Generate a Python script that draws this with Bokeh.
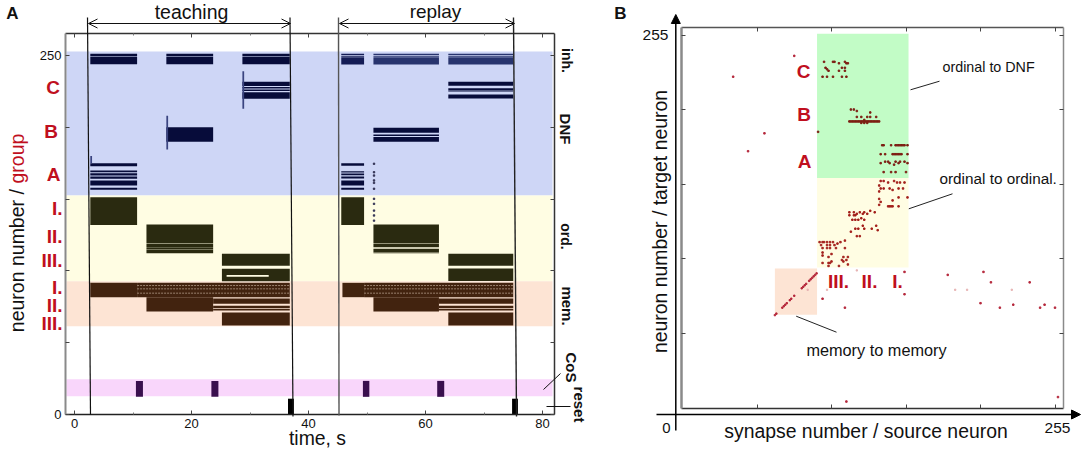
from bokeh.embed import file_html
from bokeh.resources import INLINE
from bokeh.plotting import figure
from bokeh.layouts import row
from bokeh.models import Label, Arrow, OpenHead, NormalHead, LinearAxis, FixedTicker

FONT = "Liberation Sans"
RED = "#c00f1e"
BLUE_BAND, YELLOW_BAND, PEACH_BAND, PINK_BAND, GREEN_BAND = "#ced6f6", "#fffde3", "#fde4d4", "#f9d6fb", "#c2fcc6"
NAVY, OLIVE, BROWN, PURPLE = "#070c3a", "#2a2a10", "#42230f", "#3a0f4e"

# ---------- Panel A data: (time s) and (neuron number) ----------
time_ticks = [0, 20, 40, 60, 80]
time_minor = [10, 30, 50, 70]
neuron_ticks = [0, 50, 100, 150, 200, 250]

band_inh_dnf = (152.5, 252.8)
band_ord = (92.8, 152.5)
band_mem = (61.5, 92.8)
band_cos = (12.7, 24.6)

ep_A_teach, ep_B_teach, ep_C_teach = (2.7, 10.7), (15.7, 23.7), (28.7, 36.8)
ep_A_replay, ep_B_replay, ep_C_replay = (45.6, 49.5), (51.1, 62.3), (63.9, 75.0)

inh_rows = [(243.9, 249.1), (249.5, 251.2)]
inh_rows_replay = [(243.8, 248.8), (249.1, 249.7), (250.1, 251.2)]
dnf_A_teach = [(172.9, 175), (168.7, 169.9), (166.4, 168), (164.1, 165.7), (159.5, 163), (156.5, 157.9)]
dnf_A_replay = [(173.2, 175), (168.6, 169.4), (166.6, 167.8), (164.4, 165.7), (159.5, 163), (156.5, 157.9)]
dnf_B_teach = [(190, 200)]
dnf_B_replay = [(196.2, 199.6), (194, 195), (190, 193.2)]
dnf_C_teach = [(228.8, 231.7), (227, 228), (225.3, 226.4), (219.8, 224.4)]
dnf_C_replay = [(229, 231.7), (225.7, 227.2), (225.0, 225.4), (220, 222.8)]
spikes = [(2.7, 3.0, 175, 180), (15.7, 16.0, 184.5, 208), (28.7, 29.0, 213, 239)]
stray_t = [51.2] * 11
stray_n = [174.6, 168.7, 166.4, 163, 161.3, 157.2, 150.2, 146.7, 142, 138.6, 135]

ord_I = [(132, 151.3)]
ord_II_teach_t = (12.3, 23.7)
ord_II_replay_t = (51.1, 62.3)
ord_III_teach_t = (25.2, 36.8)
ord_III_replay_t = (63.9, 75.0)
ord_II_teach = [(119.4, 132.3), (116.7, 119.1), (115.1, 116.5), (112.3, 114.9)]
ord_II_replay = [(119, 132.3), (116.5, 118.7), (113, 115.4), (112.3, 112.8)]
ord_III_teach = [(103.5, 111.9), (92.8, 101.5)]
ord_III_replay = [(103.5, 111.9), (92.9, 101.6)]
ord_III_streak_t = (26.0, 33.2)
ord_III_streak_n = (95.9, 97.1)

mem_I = (81.7, 91.7)
mem_II = (71.7, 81.7)
mem_III = (62, 71)
mem_II_late = [(77.1, 80.8), (74, 75.7), (72.4, 73.4)]
mem_I_teach_t, mem_I_tail_t = (2.7, 10.7), (10.7, 36.8)
mem_II_teach_t, mem_II_late_t = (12.3, 23.7), (23.7, 36.8)
mem_III_teach_t = (25.2, 36.8)
mem_I_replay_t, mem_I_rtail_t = (45.8, 49.5), (49.5, 75.0)
mem_II_replay_t, mem_II_rlate_t = (51.1, 62.3), (62.3, 75.0)
mem_III_replay_t = (63.9, 75.0)
mem_streak_n = [89.8, 87.5, 84.5]

cos_t = [(10.5, 11.7), (23.4, 24.6), (49.3, 50.4), (62.0, 63.2)]
cos_n = (12.3, 23.4)
reset_t = [(36.5, 37.5), (74.8, 75.8)]
reset_n = (0, 11)

# ---------- Panel B data: synapse number / target neuron ----------
conn_ticks = [50, 100, 150, 200, 250]
to_dnf_x = [95, 101, 102, 105, 109, 110, 111, 96, 97, 107, 109, 98, 105, 109, 94, 97, 101, 107, 110,
            113, 115, 117, 126, 117, 120, 124, 126, 130, 122, 112, 113, 114, 115, 116, 117, 118, 119, 120, 121,
            122, 123, 124, 125, 126, 127, 128, 129, 130, 131, 132, 120, 122, 124,
            134, 135, 140, 143, 144, 145, 146, 147, 148, 149, 151, 133, 136, 141, 142, 143, 144, 145, 146, 147, 151,
            133, 136, 138, 139, 143, 145, 146, 149, 151, 142, 135, 140, 143, 150, 91]
to_dnf_y = [232, 232, 232, 231, 232, 231, 231, 228, 227, 228, 228, 226, 226, 226, 222, 222, 222, 222, 222,
            200, 200, 199, 198, 195, 195, 195, 195, 195, 193, 192, 192, 192, 192, 192, 192, 192, 192, 192, 192,
            192, 192, 192, 192, 192, 192, 192, 192, 192, 192, 192, 191, 191, 191,
            176, 176, 176, 176, 176, 176, 176, 176, 176, 176, 176, 170, 170, 170, 170, 170, 170, 170, 170, 170, 170,
            164, 165, 165, 164, 165, 164, 165, 165, 164, 163, 158, 158, 158, 158, 185]
to_ord_x = [133, 135, 138, 142, 144, 146, 149, 132, 133, 132, 135, 139, 141, 145, 148, 145, 151, 141, 132, 133,
            138, 139, 140, 141, 145, 132,
            112, 115, 117, 119, 121, 122, 124, 126, 129, 112, 115, 116, 116, 118, 120, 122, 114, 116, 118, 121, 122,
            127, 130, 131, 113, 117, 119,
            92, 94, 95, 97, 99, 101, 104, 106, 109, 93, 97, 99, 102, 94, 97, 99, 103, 109, 94, 100, 98, 94, 108, 111,
            110, 107, 94, 98, 100, 108, 111, 105, 98, 99]
to_ord_y = [152, 152, 151, 152, 151, 151, 151, 149, 147, 145, 147, 147, 146, 147, 147, 141, 141, 139, 140, 138,
            135, 135, 135, 135, 135, 136,
            131, 131, 130, 131, 130, 131, 130, 132, 131, 129, 129, 129, 126, 126, 127, 126, 126, 120, 120, 122, 120,
            120, 122, 119, 118, 115, 115,
            111, 111, 111, 111, 111, 111, 110, 111, 112, 109, 109, 109, 109, 107, 107, 107, 107, 107, 104, 103, 101,
            102, 101, 101, 99, 99, 97, 97, 98, 98, 96, 95, 95, 97]
memory_x = [62, 63, 67, 68, 69, 70, 72, 73, 75, 80, 81, 82, 83, 85, 86, 87, 88, 89, 90]
memory_y = [62, 63, 67, 68, 69, 70, 72, 73, 75, 80, 81, 82, 83, 85, 86, 87, 88, 89, 90]
other_x = [149, 178, 202, 207, 233, 149, 94, 200, 109, 213, 222, 240, 243, 250, 252, 110, 75, 34, 55, 44]
other_y = [91, 89, 91, 84, 84, 76, 73, 70, 67, 67, 69, 67, 69, 67, 7, 4, 236, 222, 184, 172]
pale_x = [117, 183, 191, 221, 97, 84]
pale_y = [92, 79, 79, 79, 79, 79]

# ---------- placement helpers (page pixels to panel coordinates) ----------
def ax(px): return (px - 74) / 5.85
def ay(py): return (414 - py) / 1.436
def bx(px): return (px - 682) / 1.49
def by(py): return (407 - py) / 1.49


def text(p, x, y, s, size, color="#111111", align="center", weight="normal", angle=0):
    p.add_layout(Label(x=x, y=y, text=s, text_font=FONT, text_font_size=f"{size}px", text_color=color,
                       text_align=align, text_baseline="middle", text_font_style=weight,
                       angle=angle, angle_units="deg"))


def seg(p, x0, y0, x1, y1, color="#111111", width=1.0):
    p.add_layout(Arrow(end=None, start=None, x_start=x0, y_start=y0, x_end=x1, y_end=y1,
                       line_color=color, line_width=width))


def blocks(p, spans, rows, color):
    left, right, bottom, top = [], [], [], []
    for s in spans:
        for r in rows:
            left.append(s[0]); right.append(s[1]); bottom.append(r[0]); top.append(r[1])
    p.quad(left=left, right=right, bottom=bottom, top=top, fill_color=color, line_color=None)


def make_axis(p, side, where, bounds, color, width, ticks, minor=None, labels=None):
    a = LinearAxis(fixed_location=where, bounds=bounds)
    a.ticker = FixedTicker(ticks=ticks, minor_ticks=minor or [])
    a.axis_line_color = color
    a.axis_line_width = width
    a.major_tick_line_color = "#444444"
    a.minor_tick_line_color = "#777777"
    a.major_tick_in = 4
    a.major_tick_out = 0
    a.minor_tick_in = 2
    a.minor_tick_out = 0
    a.major_label_text_font = FONT
    a.major_label_text_font_size = "13px"
    a.major_label_text_color = "#111111"
    a.major_label_standoff = 4
    a.major_label_overrides = labels if labels is not None else {t: "" for t in ticks}
    p.add_layout(a, side)


# ---------- Panel A ----------
pa = figure(width=612, height=450, x_range=(ax(0), ax(612)), y_range=(ay(450), ay(0)),
            output_backend="svg", toolbar_location=None, x_axis_type=None, y_axis_type=None,
            min_border=0, min_border_left=0, min_border_right=0, min_border_top=0, min_border_bottom=0)
pa.grid.visible = False
pa.outline_line_color = None

band_l, band_r = ax(66), ax(552)
for band, col in [(band_inh_dnf, BLUE_BAND), (band_ord, YELLOW_BAND), (band_mem, PEACH_BAND), (band_cos, PINK_BAND)]:
    pa.quad(left=band_l, right=band_r, bottom=band[0], top=band[1], fill_color=col, line_color=None)

fx = (ax(65), ax(554))
fy = (ay(414), ay(33))
make_axis(pa, "left", fx[0], fy, "#8a8a8a", 2, neuron_ticks,
          labels={t: (str(t) if t in (0, 250) else "") for t in neuron_ticks})
make_axis(pa, "right", fx[1], fy, "#333333", 1.5, neuron_ticks)
make_axis(pa, "above", fy[1], fx, "#333333", 1.5, time_ticks, time_minor)
make_axis(pa, "below", fy[0], fx, "#222222", 1.5, time_ticks, time_minor, labels={t: str(t) for t in time_ticks})

blocks(pa, [ep_A_teach, ep_B_teach, ep_C_teach], inh_rows, NAVY)
blocks(pa, [ep_A_replay], inh_rows_replay, "#141c55")
blocks(pa, [ep_B_replay, ep_C_replay], inh_rows_replay, "#28346e")
blocks(pa, [ep_A_teach], dnf_A_teach, NAVY)
blocks(pa, [ep_A_replay], dnf_A_replay, NAVY)
blocks(pa, [ep_B_teach], dnf_B_teach, NAVY)
blocks(pa, [ep_B_replay], dnf_B_replay, NAVY)
blocks(pa, [ep_C_teach], dnf_C_teach, NAVY)
blocks(pa, [ep_C_replay], dnf_C_replay, NAVY)
pa.quad(left=[s[0] for s in spikes], right=[s[1] for s in spikes], bottom=[s[2] for s in spikes],
        top=[s[3] for s in spikes], fill_color="#3a4480", line_color=None)
pa.scatter(stray_t, stray_n, marker="square", size=1.4, color="#333355")

blocks(pa, [ep_A_teach, ep_A_replay], ord_I, OLIVE)
blocks(pa, [ord_II_teach_t], ord_II_teach, OLIVE)
blocks(pa, [ord_II_replay_t], ord_II_replay, OLIVE)
blocks(pa, [ord_III_teach_t], ord_III_teach, OLIVE)
blocks(pa, [ord_III_replay_t], ord_III_replay, OLIVE)
blocks(pa, [ord_III_streak_t], [ord_III_streak_n], YELLOW_BAND)

blocks(pa, [mem_I_teach_t, mem_I_tail_t, mem_I_replay_t, mem_I_rtail_t], [mem_I], BROWN)
blocks(pa, [mem_II_teach_t, mem_II_replay_t], [mem_II], BROWN)
blocks(pa, [mem_II_late_t, mem_II_rlate_t], mem_II_late, BROWN)
blocks(pa, [mem_III_teach_t, mem_III_replay_t], [mem_III], BROWN)
for tail in (mem_I_tail_t, mem_I_rtail_t):
    for n in mem_streak_n:
        pa.line([tail[0], tail[1]], [n, n], line_color="#b39a88", line_width=0.8, line_dash="2 1")
blocks(pa, cos_t, [cos_n], PURPLE)
blocks(pa, reset_t, [reset_n], "#000000")

# dividers, arrows and annotations
seg(pa, ax(87), ay(17), ax(90), ay(414), "#111111", 1.2)
seg(pa, ax(289.5), ay(17), ax(292.5), ay(416), "#111111", 1.2)
seg(pa, ax(338), ay(17), ax(338.5), ay(415), "#555555", 1.4)
seg(pa, ax(513), ay(17), ax(516), ay(416), "#222222", 1.4)
for a0, a1 in [(88, 290), (339, 514)]:
    pa.add_layout(Arrow(start=OpenHead(size=9, line_width=1, line_color="#111111"),
                        end=OpenHead(size=9, line_width=1, line_color="#111111"),
                        x_start=ax(a0), y_start=ay(23), x_end=ax(a1), y_end=ay(23),
                        line_color="#111111", line_width=1))
seg(pa, ax(543), ay(389), ax(560), ay(373), "#111111", 1)
seg(pa, ax(546), ay(406), ax(570), ay(406), "#111111", 1)

text(pa, ax(191), ay(11), "teaching", 19.5)
text(pa, ax(435), ay(11), "replay", 19)
text(pa, ax(12), ay(13), "A", 17, weight="bold")
text(pa, ax(317), ay(437), "time, s", 19.4)
text(pa, ax(16), ay(331.7), "neuron number / ", 19.5, align="left", angle=90)
text(pa, ax(16), ay(183), "group", 19.5, color=RED, align="left", angle=90)
for px, py, s in [(52.7, 86.7, "C"), (50.7, 130.7, "B"), (53, 174, "A")]:
    text(pa, ax(px), ay(py), s, 19, color=RED, weight="bold")
for py, s in [(208, "I."), (236, "II."), (260, "III."), (287, "I."), (305, "II."), (323, "III.")]:
    text(pa, ax(62), ay(py), s, 19, color=RED, align="right", weight="bold")
for px, py, s, sz in [(566, 60, "inh.", 14), (565, 128.5, "DNF", 15), (565, 236, "ord.", 14), (566.7, 305.5, "mem.", 15),
                      (570.7, 367, "CoS", 15), (579, 404, "reset", 15)]:
    text(pa, ax(px), ay(py), s, sz, weight="bold", angle=-90)

# ---------- Panel B ----------
pb = figure(width=472, height=450, x_range=(bx(612), bx(1084)), y_range=(by(450), by(0)),
            output_backend="svg", toolbar_location=None, x_axis_type=None, y_axis_type=None,
            min_border=0, min_border_left=0, min_border_right=0, min_border_top=0, min_border_bottom=0)
pb.grid.visible = False
pb.outline_line_color = None

pb.quad(left=[90.3], right=[151.7], bottom=[154], top=[250.8], fill_color=GREEN_BAND, line_color=None)
pb.quad(left=[90.3], right=[151.7], bottom=[94], top=[154], fill_color=YELLOW_BAND, line_color=None)
pb.quad(left=[62], right=[90.3], bottom=[62.2], top=[93.3], fill_color=PEACH_BAND, line_color=None)

gx = (bx(681), bx(1063))
gy = (by(408), by(27))
make_axis(pb, "left", gx[0], gy, "#8a8a8a", 2.5, conn_ticks)
make_axis(pb, "right", gx[1], gy, "#8a8a8a", 1.5, conn_ticks)
make_axis(pb, "above", gy[1], gx, "#555555", 1.5, conn_ticks)
make_axis(pb, "below", gy[0], gx, "#333333", 1.5, conn_ticks)

pb.scatter(pale_x, pale_y, marker="square", size=1.3, color="#e6b3b3")
pb.scatter(other_x, other_y, marker="square", size=1.5, color="#b5283c")
pb.scatter(memory_x, memory_y, marker="square", size=1.4, color="#b5283c")
pb.scatter(to_dnf_x, to_dnf_y, marker="square", size=1.5, color="#7d1f14")
pb.scatter(to_ord_x, to_ord_y, marker="square", size=1.5, color="#a3201c")

pb.add_layout(Arrow(end=NormalHead(size=9, fill_color="#000000", line_color="#000000"), start=None,
                    x_start=bx(675.3), y_start=by(430), x_end=bx(675.3), y_end=by(14),
                    line_color="#000000", line_width=1.5))
pb.add_layout(Arrow(end=NormalHead(size=9, fill_color="#000000", line_color="#000000"), start=None,
                    x_start=bx(656), y_start=by(414), x_end=bx(1080), y_end=by(414),
                    line_color="#000000", line_width=1.5))

seg(pb, bx(910), by(89.3), bx(939), by(80.7), "#222222", 1)
seg(pb, bx(908.3), by(208.3), bx(952), by(193.3), "#222222", 1)
seg(pb, bx(795.7), by(315.7), bx(836), by(331.7), "#222222", 1)

text(pb, bx(620), by(13), "B", 17, weight="bold")
text(pb, bx(655), by(34), "255", 15.5)
text(pb, bx(666), by(427.7), "0", 15)
text(pb, bx(1057), by(427.7), "255", 15.5)
text(pb, bx(865.5), by(430), "synapse number / source neuron", 19.4)
text(pb, bx(659), by(221), "neuron number / target neuron", 19.4, angle=90)
for px, py, s in [(803, 71, "C"), (803.7, 114, "B"), (804, 161, "A"), (838, 281, "III."), (869, 281, "II."), (897, 281, "I.")]:
    text(pb, bx(px), by(py), s, 19, color=RED, weight="bold")
text(pb, bx(942), by(66), "ordinal to DNF", 14.3, align="left")
text(pb, bx(939), by(178), "ordinal to ordinal.", 15.3, align="left")
text(pb, bx(876), by(349), "memory to memory", 16.3)

page = row(pa, pb, spacing=0)
open("out.html", "w").write(file_html(page, INLINE))
